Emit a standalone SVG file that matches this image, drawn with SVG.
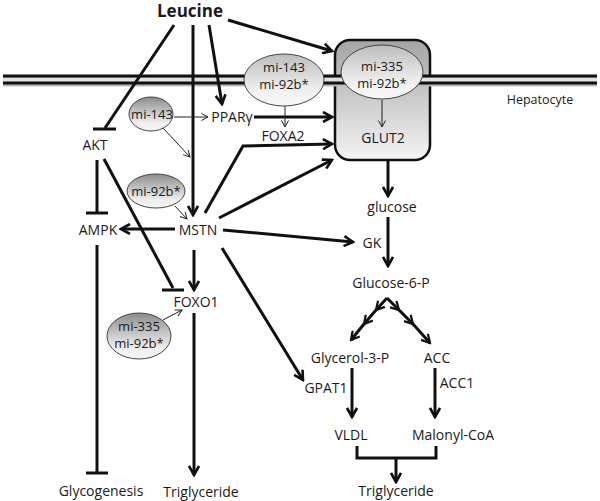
<svg xmlns="http://www.w3.org/2000/svg" width="600" height="501" viewBox="0 0 600 501">
<defs>
<style>
.t{font-family:"Open Sans","Noto Sans",sans-serif;font-size:14px;fill:#1a1a1a;text-anchor:middle}
.s{font-size:13px}
.h{font-size:12.5px}
.k{stroke:#111;stroke-width:3;fill:none}
.n{stroke:#222;stroke-width:1;fill:none}
.m{stroke:#111;stroke-width:3;fill:none}
.ms{stroke:#bbb;stroke-width:3;fill:none}
.e{stroke:#444;stroke-width:1}
</style>
<linearGradient id="gb" x1="0" y1="0" x2="0" y2="1"><stop offset="0" stop-color="#a4a4a4"/><stop offset="1" stop-color="#f4f4f4"/></linearGradient>
<linearGradient id="ge" x1="0" y1="0" x2="0" y2="1"><stop offset="0" stop-color="#bdbdbd"/><stop offset="0.7" stop-color="#f0f0f0"/><stop offset="1" stop-color="#f8f8f8"/></linearGradient>
<linearGradient id="gd" x1="0" y1="0" x2="0" y2="1"><stop offset="0" stop-color="#8c8c8c"/><stop offset="0.75" stop-color="#eeeeee"/><stop offset="1" stop-color="#f6f6f6"/></linearGradient>
<marker id="a" viewBox="0 0 12 12" refX="10" refY="6" markerWidth="12" markerHeight="12" markerUnits="userSpaceOnUse" orient="auto"><path d="M1,1 L10,6 L1,11" fill="none" stroke="#111" stroke-width="2.6"/></marker>
<marker id="c" viewBox="0 0 12 12" refX="10" refY="6" markerWidth="11" markerHeight="11" markerUnits="userSpaceOnUse" orient="auto"><path d="M1,1 L10,6 L1,11" fill="none" stroke="#111" stroke-width="2.4"/></marker>
<marker id="b" viewBox="0 0 8 8" refX="7" refY="4" markerWidth="8" markerHeight="8" markerUnits="userSpaceOnUse" orient="auto"><path d="M0.5,0.5 L7,4 L0.5,7.5" fill="none" stroke="#222" stroke-width="1"/></marker>
</defs>

<g id="glut2-box">
<rect x="335" y="40" width="95" height="120" rx="15" ry="15" fill="url(#gb)" stroke="#111" stroke-width="2.5"/>
</g>

<g id="membrane">
<line x1="3" y1="78" x2="597" y2="78" class="ms"/>
<line x1="3" y1="85" x2="597" y2="85" class="ms"/>
<rect x="3" y="78" width="594" height="4" fill="#e2e2e2"/>
<line x1="3" y1="76" x2="597" y2="76" class="m"/>
<line x1="3" y1="83" x2="597" y2="83" class="m"/>
</g>

<g id="connectors">
<line x1="174" y1="25" x2="105" y2="128" class="k"/>
<line x1="93" y1="129" x2="116" y2="129" class="k"/>
<line x1="193" y1="25" x2="193" y2="215" class="k" marker-end="url(#a)"/>
<line x1="209" y1="25" x2="222" y2="104" class="k" marker-end="url(#a)"/>
<line x1="228" y1="20" x2="332" y2="51" class="k" marker-end="url(#a)"/>
<line x1="254" y1="117" x2="332" y2="117" class="k" marker-end="url(#a)"/>
<polyline points="205,213 243,146 332,144" class="k" marker-end="url(#a)"/>
<line x1="219" y1="218" x2="332" y2="160" class="k" marker-end="url(#a)"/>
<line x1="223" y1="230" x2="353" y2="242" class="k" marker-end="url(#a)"/>
<line x1="175" y1="229" x2="121" y2="229" class="k" marker-end="url(#a)"/>
<line x1="194" y1="250" x2="194" y2="290" class="k" marker-end="url(#a)"/>
<line x1="222" y1="248" x2="303" y2="380" class="k" marker-end="url(#a)"/>
<line x1="97" y1="160" x2="97" y2="212" class="k"/>
<line x1="86" y1="213" x2="108" y2="213" class="k"/>
<line x1="104" y1="159" x2="173" y2="288" class="k"/>
<line x1="162" y1="290" x2="184" y2="290" class="k"/>
<line x1="97" y1="245" x2="97" y2="472" class="k"/>
<line x1="86" y1="473" x2="108" y2="473" class="k"/>
<line x1="194" y1="313" x2="194" y2="475" class="k" marker-end="url(#a)"/>
<line x1="388" y1="161" x2="388" y2="196" class="k" marker-end="url(#a)"/>
<line x1="388" y1="217" x2="388" y2="266" class="k" marker-end="url(#a)"/>
<polyline points="387,298 376,310 364,324 351,340" class="k" marker-mid="url(#c)" marker-end="url(#c)"/>
<polyline points="387,298 399,310 413,324 430,343" class="k" marker-mid="url(#c)" marker-end="url(#c)"/>
<line x1="352" y1="368" x2="352" y2="417" class="k" marker-end="url(#a)"/>
<line x1="435" y1="368" x2="435" y2="417" class="k" marker-end="url(#a)"/>
<polyline points="357,446 357,458 436,458 436,446" class="k"/>
<line x1="396" y1="458" x2="396" y2="482" class="k" marker-end="url(#a)"/>
<line x1="174" y1="117" x2="208" y2="117" class="n" marker-end="url(#b)"/>
<line x1="163" y1="128" x2="190" y2="157" class="n" marker-end="url(#b)"/>
<line x1="175" y1="206" x2="187" y2="219" class="n" marker-end="url(#b)"/>
<line x1="163" y1="320" x2="182" y2="310" class="n" marker-end="url(#b)"/>
<line x1="285" y1="106" x2="285" y2="127" class="n" marker-end="url(#b)"/>
<line x1="382" y1="100" x2="382" y2="127" class="n" marker-end="url(#b)"/>
</g>

<g id="mi143-92b-big">
<ellipse cx="284" cy="80" rx="40" ry="26" fill="url(#ge)" class="e"/>
<text x="284" y="72" class="t s">mi-143</text>
<text x="284" y="89" class="t s">mi-92b*</text>
</g>
<g id="mi335-92b-big">
<ellipse cx="382" cy="72" rx="41" ry="27" fill="url(#ge)" class="e"/>
<text x="382" y="71" class="t s">mi-335</text>
<text x="382" y="88" class="t s">mi-92b*</text>
</g>
<g id="mi143-small">
<ellipse cx="151" cy="114" rx="22" ry="17" fill="url(#gd)" class="e"/>
<text x="152" y="119" class="t s">mi-143</text>
</g>
<g id="mi92b-small">
<ellipse cx="156" cy="191" rx="29" ry="17" fill="url(#gd)" class="e"/>
<text x="156" y="196" class="t s">mi-92b*</text>
</g>
<g id="mi335-92b-small">
<ellipse cx="139" cy="336" rx="32" ry="23" fill="url(#gd)" class="e"/>
<text x="139" y="331" class="t s">mi-335</text>
<text x="139" y="348" class="t s">mi-92b*</text>
</g>

<g id="leucine"><text x="190" y="17" class="t" style="font-size:17px;font-weight:bold">Leucine</text></g>
<g id="akt"><text x="95" y="150" class="t">AKT</text></g>
<g id="ppar"><text x="232" y="122" class="t">PPARγ</text></g>
<g id="foxa2"><text x="283" y="141" class="t">FOXA2</text></g>
<g id="glut2"><text x="383" y="143" class="t">GLUT2</text></g>
<g id="hepatocyte"><text x="540" y="104" class="t h">Hepatocyte</text></g>
<g id="mstn"><text x="198" y="235" class="t">MSTN</text></g>
<g id="ampk"><text x="98" y="235" class="t">AMPK</text></g>
<g id="gk"><text x="372" y="248" class="t">GK</text></g>
<g id="glucose"><text x="392" y="212" class="t">glucose</text></g>
<g id="g6p"><text x="391" y="288" class="t">Glucose-6-P</text></g>
<g id="foxo1"><text x="196" y="307" class="t">FOXO1</text></g>
<g id="glycerol3p"><text x="350" y="363" class="t">Glycerol-3-P</text></g>
<g id="acc"><text x="437" y="363" class="t">ACC</text></g>
<g id="gpat1"><text x="326" y="393" class="t">GPAT1</text></g>
<g id="acc1"><text x="457" y="388" class="t">ACC1</text></g>
<g id="vldl"><text x="351" y="440" class="t">VLDL</text></g>
<g id="malonyl"><text x="453" y="440" class="t">Malonyl-CoA</text></g>
<g id="glycogenesis"><text x="101" y="496" class="t">Glycogenesis</text></g>
<g id="tg-left"><text x="201" y="497" class="t">Triglyceride</text></g>
<g id="tg-right"><text x="396" y="496" class="t">Triglyceride</text></g>
</svg>
